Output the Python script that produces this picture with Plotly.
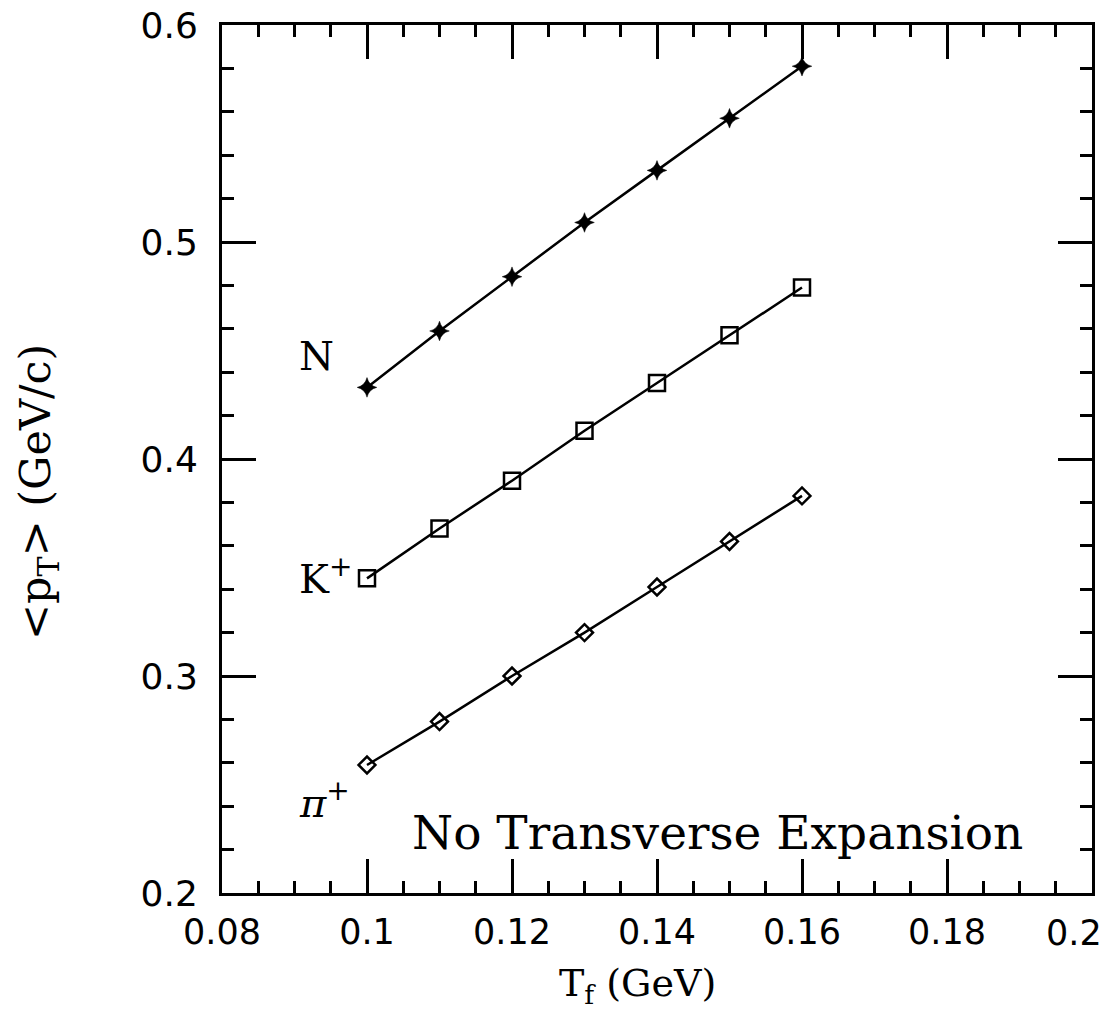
import plotly.graph_objects as go

T_f = [0.10, 0.11, 0.12, 0.13, 0.14, 0.15, 0.16]
pt_N = [0.433, 0.459, 0.484, 0.509, 0.533, 0.557, 0.581]
pt_K = [0.345, 0.368, 0.390, 0.413, 0.435, 0.457, 0.479]
pt_pi = [0.259, 0.279, 0.300, 0.320, 0.341, 0.362, 0.383]

x_ticks = [0.08, 0.10, 0.12, 0.14, 0.16, 0.18, 0.20]
x_tick_labels = ["0.08", "0.1", "0.12", "0.14", "0.16", "0.18", "0.2"]
y_ticks = [0.2, 0.3, 0.4, 0.5, 0.6]
y_tick_labels = ["0.2", "0.3", "0.4", "0.5", "0.6"]

SERIF = "DejaVu Serif"
SANS = "DejaVu Sans"
XTICK_FONT = dict(family=SANS, size=35, color="black")

fig = go.Figure()
line = dict(color="black", width=2.5)
fig.add_trace(go.Scatter(x=T_f, y=pt_N, mode="lines+markers", line=line,
                         marker=dict(symbol="star-diamond", size=14, color="black",
                                     line=dict(color="black", width=0.5)),
                         showlegend=False))
fig.add_trace(go.Scatter(x=T_f, y=pt_K, mode="lines+markers", line=line,
                         marker=dict(symbol="square-open", size=16, color="black",
                                     line=dict(color="black", width=2.5)),
                         showlegend=False))
fig.add_trace(go.Scatter(x=T_f, y=pt_pi, mode="lines+markers", line=line,
                         marker=dict(symbol="diamond-open", size=13, color="black",
                                     line=dict(color="black", width=2.5)),
                         showlegend=False))

ann_font = dict(family=SERIF, size=40, color="black")
fig.add_annotation(x=0.0903, y=0.4475, xref="x", yref="y", text="N", showarrow=False,
                   xanchor="left", yanchor="middle", font=ann_font)
fig.add_annotation(x=0.0903, y=0.346, xref="x", yref="y", text="K<sup>+</sup>", showarrow=False,
                   xanchor="left", yanchor="middle", font=ann_font)
fig.add_annotation(x=0.0903, y=0.243, xref="x", yref="y", text="<i>π</i><sup>+</sup>", showarrow=False,
                   xanchor="left", yanchor="middle", font=ann_font)
fig.add_annotation(x=0.1059, y=0.228, xref="x", yref="y", text="No Transverse Expansion",
                   showarrow=False, xanchor="left", yanchor="middle",
                   font=dict(family=SERIF, size=47, color="black"))

# axis titles
fig.add_annotation(x=(637 - 222) / 870, y=(893 - 985) / 868, xref="paper", yref="paper",
                   text="T<sub>f</sub> (GeV)", showarrow=False, xanchor="center", yanchor="middle",
                   font=dict(family=SERIF, size=38, color="black"))
fig.add_annotation(x=(38 - 222) / 870, y=(893 - 492) / 868, xref="paper", yref="paper",
                   text="&lt;p<sub>T</sub>&gt; (GeV/c)", showarrow=False, textangle=-90,
                   xanchor="center", yanchor="middle",
                   font=dict(family="DejaVu Serif, serif", size=43, color="black"))

# last x tick label, drawn shifted left so it stays inside the page (as in the reference)
fig.add_annotation(x=x_ticks[-1], y=0, xref="x", yref="paper", text=x_tick_labels[-1],
                   showarrow=False, xanchor="right", yanchor="top", xshift=12, yshift=-18,
                   font=XTICK_FONT)
shown_x_labels = x_tick_labels[:-1] + [""]

axis_common = dict(showgrid=False, zeroline=False, showline=True, linecolor="black",
                   linewidth=3, mirror="ticks", ticks="inside", ticklen=34, tickwidth=2.5,
                   tickcolor="black", automargin=False)

fig.update_xaxes(range=[0.08, 0.2], tickvals=x_ticks, ticktext=shown_x_labels,
                 minor=dict(dtick=0.005, ticks="inside", ticklen=12, tickwidth=2.5, tickcolor="black"),
                 tickfont=XTICK_FONT, ticklabelstandoff=6,
                 **axis_common)
fig.update_yaxes(range=[0.2, 0.6], tickvals=y_ticks, ticktext=y_tick_labels,
                 minor=dict(dtick=0.02, ticks="inside", ticklen=12, tickwidth=2.5, tickcolor="black"),
                 tickfont=dict(family=SANS, size=36, color="black"), ticklabelstandoff=14,
                 **axis_common)

fig.update_layout(width=1113, height=1018, margin=dict(l=222, r=21, t=25, b=125),
                  paper_bgcolor="white", plot_bgcolor="white")

fig.write_html("out.html")
